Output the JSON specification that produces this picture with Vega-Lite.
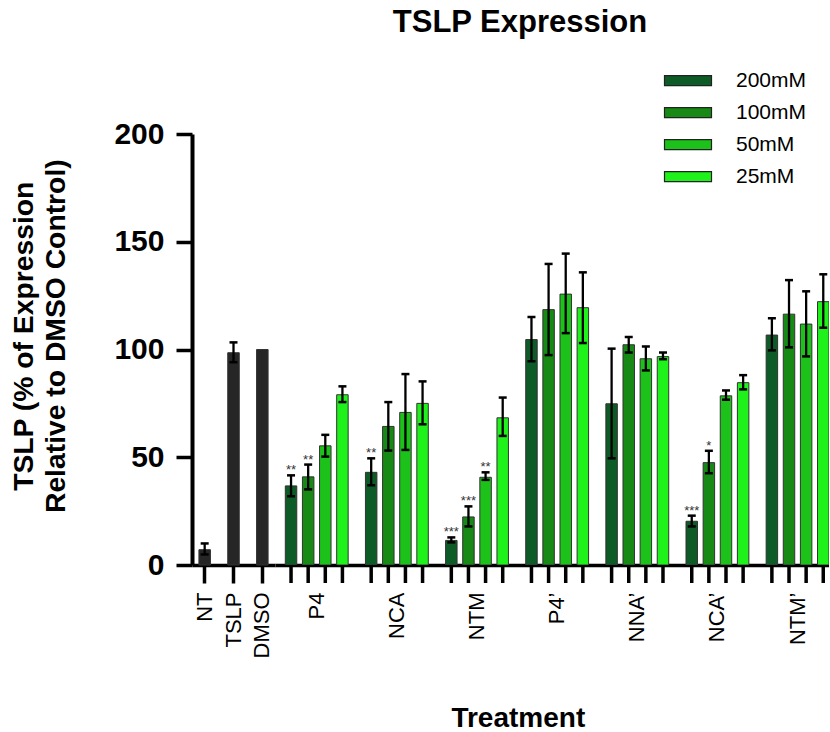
{
  "$schema": "https://vega.github.io/schema/vega-lite/v6.json",
  "autosize": {"type": "pad"},
  "padding": {"left": 8, "top": 7, "right": 0, "bottom": 0},
  "background": "white",
  "config": {
    "view": {"stroke": null},
    "font": "Liberation Sans",
    "axis": {"labelFont": "Liberation Sans", "titleFont": "Liberation Sans"},
    "legend": {"labelFont": "Liberation Sans"}
  },
  "title": {
    "text": "TSLP Expression",
    "fontSize": 31,
    "fontWeight": "bold",
    "font": "Liberation Sans",
    "color": "black",
    "anchor": "middle",
    "frame": "group",
    "dx": 328,
    "offset": 31
  },
  "datasets": {
    "controls": [
      {"treatment": "NT", "mean": 7.1, "lo": 4.9, "hi": 10.0},
      {"treatment": "TSLP", "mean": 98.5, "lo": 94.1, "hi": 103.3},
      {"treatment": "DMSO", "mean": 100, "lo": null, "hi": null}
    ],
    "treated": [
      {"treatment": "P4", "conc": "200mM", "mean": 36.7, "lo": 31.9, "hi": 41.6, "sig": "**"},
      {"treatment": "P4", "conc": "100mM", "mean": 40.9, "lo": 35.1, "hi": 46.6, "sig": "**"},
      {"treatment": "P4", "conc": "50mM", "mean": 55.3, "lo": 50.3, "hi": 60.4, "sig": ""},
      {"treatment": "P4", "conc": "25mM", "mean": 79.0, "lo": 75.6, "hi": 82.9, "sig": ""},
      {"treatment": "NCA", "conc": "200mM", "mean": 43.0, "lo": 37.0, "hi": 49.5, "sig": "**"},
      {"treatment": "NCA", "conc": "100mM", "mean": 64.3, "lo": 53.1, "hi": 75.6, "sig": ""},
      {"treatment": "NCA", "conc": "50mM", "mean": 70.8, "lo": 53.4, "hi": 88.6, "sig": ""},
      {"treatment": "NCA", "conc": "25mM", "mean": 75.0, "lo": 65.3, "hi": 85.2, "sig": ""},
      {"treatment": "NTM", "conc": "200mM", "mean": 11.4, "lo": 10.5, "hi": 12.8, "sig": "***"},
      {"treatment": "NTM", "conc": "100mM", "mean": 22.3, "lo": 17.9, "hi": 27.2, "sig": "***"},
      {"treatment": "NTM", "conc": "50mM", "mean": 40.7, "lo": 39.5, "hi": 43.0, "sig": "**"},
      {"treatment": "NTM", "conc": "25mM", "mean": 68.3, "lo": 59.9, "hi": 77.7, "sig": ""},
      {"treatment": "P4’", "conc": "200mM", "mean": 104.6, "lo": 94.6, "hi": 115.1, "sig": ""},
      {"treatment": "P4’", "conc": "100mM", "mean": 118.5, "lo": 97.4, "hi": 139.7, "sig": ""},
      {"treatment": "P4’", "conc": "50mM", "mean": 125.7, "lo": 107.6, "hi": 144.5, "sig": ""},
      {"treatment": "P4’", "conc": "25mM", "mean": 119.4, "lo": 103.0, "hi": 135.8, "sig": ""},
      {"treatment": "NNA’", "conc": "200mM", "mean": 74.8, "lo": 49.5, "hi": 100.4, "sig": ""},
      {"treatment": "NNA’", "conc": "100mM", "mean": 102.2, "lo": 98.6, "hi": 105.8, "sig": ""},
      {"treatment": "NNA’", "conc": "50mM", "mean": 95.7, "lo": 90.3, "hi": 101.4, "sig": ""},
      {"treatment": "NNA’", "conc": "25mM", "mean": 96.7, "lo": 95.5, "hi": 98.6, "sig": ""},
      {"treatment": "NCA’", "conc": "200mM", "mean": 20.3, "lo": 17.9, "hi": 22.9, "sig": "***"},
      {"treatment": "NCA’", "conc": "100mM", "mean": 47.5, "lo": 42.6, "hi": 53.0, "sig": "*"},
      {"treatment": "NCA’", "conc": "50mM", "mean": 78.5, "lo": 76.7, "hi": 81.0, "sig": ""},
      {"treatment": "NCA’", "conc": "25mM", "mean": 84.6, "lo": 81.5, "hi": 88.1, "sig": ""},
      {"treatment": "NTM’", "conc": "200mM", "mean": 106.7, "lo": 99.6, "hi": 114.5, "sig": ""},
      {"treatment": "NTM’", "conc": "100mM", "mean": 116.4, "lo": 101.0, "hi": 132.2, "sig": ""},
      {"treatment": "NTM’", "conc": "50mM", "mean": 111.8, "lo": 96.8, "hi": 127.0, "sig": ""},
      {"treatment": "NTM’", "conc": "25mM", "mean": 122.2, "lo": 110.1, "hi": 134.9, "sig": ""}
    ]
  },
  "spacing": 0,
  "bounds": "flush",
  "hconcat": [
    {
      "width": 83,
      "height": 431,
      "data": {"name": "controls"},
      "encoding": {
        "x": {
          "field": "treatment",
          "type": "nominal",
          "sort": null,
          "scale": {"domain": ["NT", "TSLP", "DMSO"], "paddingInner": 0.6, "paddingOuter": 0.24},
          "axis": {
            "title": null,
            "labelAngle": -90,
            "labelAlign": "right",
            "labelBaseline": "middle",
            "labelFontSize": 22,
            "labelColor": "black",
            "labelPadding": 9,
            "tickSize": 18,
            "tickWidth": 3.5,
            "tickColor": "black",
            "domainWidth": 3.5,
            "domainColor": "black"
          }
        }
      },
      "layer": [
        {
          "mark": {"type": "bar", "color": "#262626", "stroke": "#333333", "strokeWidth": 1},
          "encoding": {
            "y": {
              "field": "mean",
              "type": "quantitative",
              "title": ["TSLP (% of Expression", "Relative to DMSO Control)"],
              "scale": {"domain": [0, 200], "nice": false},
              "axis": {
                "values": [0, 50, 100, 150, 200],
                "grid": false,
                "labelFontSize": 30,
                "labelFontWeight": "bold",
                "labelColor": "black",
                "labelPadding": 12,
                "tickSize": 16,
                "tickWidth": 3.5,
                "tickColor": "black",
                "domainWidth": 4,
                "domainColor": "black",
                "titleFontSize": 28.3,
                "titleFontWeight": "bold",
                "titleColor": "black",
                "titleLineHeight": 32,
                "titleAngle": -90,
                "titleAlign": "center",
                "titleBaseline": "middle",
                "titleX": -168,
                "titleY": 201.7
              }
            }
          }
        },
        {
          "mark": {"type": "rule", "strokeWidth": 2.3, "color": "black"},
          "encoding": {
            "y": {"field": "lo", "type": "quantitative", "title": ["TSLP (% of Expression", "Relative to DMSO Control)"]},
            "y2": {"field": "hi"}
          }
        },
        {
          "mark": {"type": "tick", "size": 8, "thickness": 2.5, "color": "black", "opacity": 1},
          "encoding": {"y": {"field": "lo", "type": "quantitative", "title": ["TSLP (% of Expression", "Relative to DMSO Control)"]}}
        },
        {
          "mark": {"type": "tick", "size": 8, "thickness": 2.5, "color": "black", "opacity": 1},
          "encoding": {"y": {"field": "hi", "type": "quantitative", "title": ["TSLP (% of Expression", "Relative to DMSO Control)"]}}
        }
      ]
    },
    {
      "width": 554,
      "height": 431,
      "data": {"name": "treated"},
      "encoding": {
        "x": {
          "field": "treatment",
          "type": "nominal",
          "sort": null,
          "scale": {
            "domain": ["P4", "NCA", "NTM", "P4’", "NNA’", "NCA’", "NTM’"],
            "paddingInner": 0.2157,
            "paddingOuter": 0.0643,
            "align": 1
          },
          "axis": {
            "title": "Treatment",
            "titleFontSize": 28,
            "titleFontWeight": "bold",
            "titleColor": "black",
            "titleX": 242.8,
            "titleY": 161.7,
            "titleBaseline": "alphabetic",
            "titleAlign": "center",
            "labelAngle": -90,
            "labelAlign": "right",
            "labelBaseline": "middle",
            "labelFontSize": 22,
            "labelColor": "black",
            "labelPadding": 9,
            "ticks": true,
            "tickSize": 18,
            "tickOpacity": 0,
            "domainWidth": 3.5,
            "domainColor": "black"
          }
        },
        "xOffset": {
          "field": "conc",
          "type": "nominal",
          "sort": null,
          "scale": {"domain": ["200mM", "100mM", "50mM", "25mM"], "paddingInner": 0.33, "paddingOuter": 0}
        }
      },
      "layer": [
        {
          "mark": {"type": "bar", "stroke": "#333333", "strokeWidth": 1, "opacity": 1, "clip": true},
          "encoding": {
            "y": {"field": "mean", "type": "quantitative", "scale": {"domain": [0, 200], "nice": false}, "axis": null},
            "color": {
              "field": "conc",
              "type": "nominal",
              "sort": null,
              "scale": {"domain": ["200mM", "100mM", "50mM", "25mM"], "range": ["#0d5c27", "#168a14", "#1cc21a", "#1ff11b"]},
              "legend": {
                "orient": "none",
                "legendX": 485.5,
                "legendY": -63.8,
                "title": null,
                "padding": 0,
                "symbolType": "M-4.7,-1H4.7V1H-4.7Z",
                "symbolSize": 100,
                "symbolStrokeColor": "#222222",
                "symbolStrokeWidth": 1.2,
                "symbolOpacity": 1,
                "labelFontSize": 21,
                "labelColor": "black",
                "labelOffset": 37.5,
                "rowPadding": 10
              }
            }
          }
        },
        {
          "mark": {"type": "rule", "strokeWidth": 2.3, "color": "black"},
          "encoding": {
            "y": {"field": "lo", "type": "quantitative", "axis": null},
            "y2": {"field": "hi"}
          }
        },
        {
          "mark": {"type": "tick", "size": 8, "thickness": 2.5, "color": "black", "opacity": 1, "clip": true},
          "encoding": {"y": {"field": "lo", "type": "quantitative", "axis": null}}
        },
        {
          "mark": {"type": "tick", "size": 8, "thickness": 2.5, "color": "black", "opacity": 1, "clip": true},
          "encoding": {"y": {"field": "hi", "type": "quantitative", "axis": null}}
        },
        {
          "mark": {"type": "text", "fontSize": 13, "color": "#333333", "baseline": "alphabetic", "dy": -1},
          "encoding": {
            "y": {"field": "hi", "type": "quantitative", "axis": null},
            "text": {"field": "sig"}
          }
        },
        {
          "mark": {"type": "rule", "strokeWidth": 3.5, "color": "black", "y2Offset": 18},
          "encoding": {
            "y": {"datum": 0, "type": "quantitative", "axis": null},
            "y2": {"datum": 0}
          }
        }
      ]
    }
  ]
}
